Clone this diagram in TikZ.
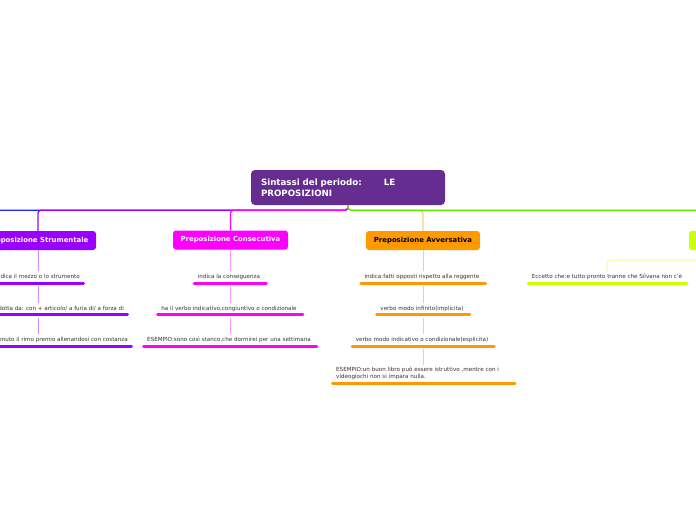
\documentclass[tikz,border=0pt]{standalone}
\usepackage{fontspec}
\setmainfont{DejaVu Sans}
\definecolor{rootc}{HTML}{662D91}
\definecolor{purp}{HTML}{9900FF}
\definecolor{purpl}{HTML}{CC88FF}
\definecolor{mag}{HTML}{FF00FF}
\definecolor{magl}{HTML}{FF99FF}
\definecolor{ora}{HTML}{FF9900}
\definecolor{oral}{HTML}{FFCC80}
\definecolor{lim}{HTML}{CCFF00}
\definecolor{liml}{HTML}{EEFF99}
\definecolor{grn}{HTML}{5CE600}
\definecolor{blu}{HTML}{2222FF}
\definecolor{txt}{HTML}{333333}
\tikzset{
  rootbox/.style={fill=rootc, rounded corners=4pt, text=white, font=\bfseries\fontsize{8.7}{11}\selectfont,
    minimum height=35pt, text width=174pt, inner xsep=10pt, align=left},
  childbox/.style={rounded corners=3pt, font=\bfseries\fontsize{6.9}{7}\selectfont, minimum height=19pt, inner sep=0pt},
  item/.style={font=\fontsize{5.6}{7}\selectfont, text=txt, inner xsep=0pt, inner ysep=0pt, text height=4.2pt, text depth=1.2pt},
  trunk/.style={line width=1.3pt, rounded corners=3pt},
  lconn/.style={line width=1pt},
  bar/.style={line width=3pt, line cap=round},
}
\begin{document}
\begin{tikzpicture}[x=1pt,y=-1pt]
\useasboundingbox (0,0) rectangle (696,520);
\fill[white] (0,0) rectangle (696,520);

% root
\node[rootbox] (root) at (348,187.5) {Sintassi del periodo:\hspace{22pt}LE\\PROPOSIZIONI};

% children
\node[childbox, fill=purp, text=white, minimum width=116pt] (strum) at (38,240.5) {Proposizione Strumentale};
\node[childbox, fill=mag, text=white, minimum width=115pt] (cons) at (230.5,240) {Preposizione Consecutiva};
\node[childbox, fill=ora, text=black, minimum width=114pt] (avv) at (423,240.5) {Preposizione Avversativa};
\node[childbox, fill=lim, minimum width=115pt] (lime) at (746.5,240.5) {};
\coordinate (offL) at (-70,231);

% trunk connectors
\draw[trunk, blu] (root.south) -- ++(0,5) -| (offL);
\draw[trunk, purp] (root.south) -- ++(0,5) -| (strum.north);
\draw[trunk, mag] (root.south) -- ++(0,5) -| (cons.north);
\draw[trunk, oral] (root.south) -- ++(0,5) -| (avv.north);
\draw[trunk, grn] (root.south) -- ++(0,5) -| (lime.north);

% Strumentale items
\node[item, anchor=east] (s1) at (80,277) {indica il mezzo o lo strumento};
\node[item, anchor=east] (s2) at (124,308.5) {introdotta da: con + articolo/ a furia di/ a forza di};
\node[item, anchor=east] (s3) at (128,340) {ESEMPIO:ha ottenuto il rimo premio allenandosi con costanza};
\foreach \n in {s1,s2,s3}{
  \draw[bar, purp] ([xshift=-3.5pt,yshift=-3.5pt]\n.south west) -- ([xshift=3.5pt,yshift=-3.5pt]\n.south east);
}
\draw[lconn, purpl, shorten >=3pt] (strum.south) -- (strum.south |- s1.north);
\draw[lconn, purpl, shorten <=6.5pt, shorten >=3pt] (strum.south |- s1.south) -- (strum.south |- s2.north);
\draw[lconn, purpl, shorten <=6.5pt, shorten >=3pt] (strum.south |- s2.south) -- (strum.south |- s3.north);

% Consecutiva items
\node[item] (c1) at (229,277) {indica la conseguenza};
\node[item] (c2) at (229,308.5) {ha il verbo indicativo,congiuntivo o condizionale};
\node[item] (c3) at (229,340) {ESEMPIO:sono così stanco,che dormirei per una settimana};
\foreach \n in {c1,c2,c3}{
  \draw[bar, mag] ([xshift=-3.5pt,yshift=-3.5pt]\n.south west) -- ([xshift=6pt,yshift=-3.5pt]\n.south east);
}
\draw[lconn, magl, shorten >=3pt] (cons.south) -- (cons.south |- c1.north);
\draw[lconn, magl, shorten <=6.5pt, shorten >=3pt] (cons.south |- c1.south) -- (cons.south |- c2.north);
\draw[lconn, magl, shorten <=6.5pt, shorten >=3pt] (cons.south |- c2.south) -- (cons.south |- c3.north);

% Avversativa items
\node[item] (a1) at (422,277) {indica:fatti opposti rispetto alla reggente};
\node[item] (a2) at (422,308.5) {verbo modo infinito(implicita)};
\node[item] (a3) at (422,340) {verbo modo indicativo o condizionale(esplicita)};
\foreach \n in {a1,a2,a3}{
  \draw[bar, ora] ([xshift=-3.5pt,yshift=-3.5pt]\n.south west) -- ([xshift=6pt,yshift=-3.5pt]\n.south east);
}
\node[font=\fontsize{5.6}{7}\selectfont, text=txt, inner sep=0pt, text width=176pt, align=left, anchor=north west] (a4) at (336,367)
  {ESEMPIO:un buon libro può essere istruttivo ,mentre con i\\videogiochi non si impara nulla.};
\draw[bar, ora] ([xshift=-3.5pt,yshift=-3pt]a4.south west) -- ([xshift=2.5pt,yshift=-3pt]a4.south east);
\draw[lconn, oral, shorten >=3pt] (avv.south) -- (avv.south |- a1.north);
\draw[lconn, oral, shorten <=6.5pt, shorten >=3pt] (avv.south |- a1.south) -- (avv.south |- a2.north);
\draw[lconn, oral, shorten <=6.5pt, shorten >=3pt] (avv.south |- a2.south) -- (avv.south |- a3.north);
\draw[lconn, oral, shorten <=6.5pt, shorten >=2pt] (avv.south |- a3.south) -- (avv.south |- a4.north);

% Lime item
\node[item] (l1) at (607,277) {Eccetto che:e tutto pronto tranne che Silvana non c'è};
\draw[bar, lim] ([xshift=-3.5pt,yshift=-3.5pt]l1.south west) -- ([xshift=4.5pt,yshift=-3.5pt]l1.south east);
\draw[lconn, liml, rounded corners=3pt, shorten >=3pt] (lime.south) -- ++(0,10) -| (l1.north);
\end{tikzpicture}
\end{document}
